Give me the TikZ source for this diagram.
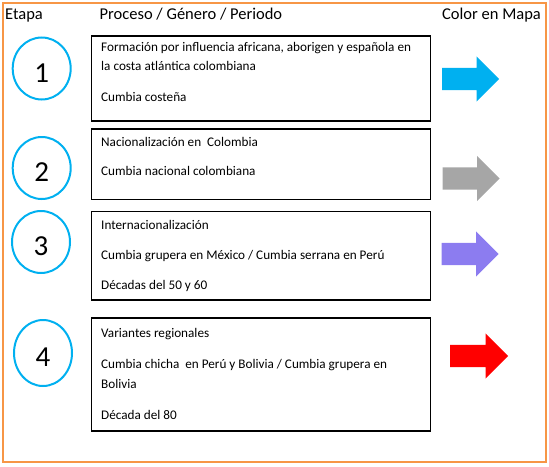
\documentclass[tikz,border=0pt]{standalone}
\usepackage{fontspec}
\setmainfont{Carlito}
\usetikzlibrary{shapes.geometric,shapes.arrows}
\definecolor{marco}{HTML}{F79646}
\definecolor{celeste}{HTML}{00B0F0}
\definecolor{gris}{HTML}{A6A6A6}
\definecolor{lila}{HTML}{8C7CF0}

\begin{document}
\begin{tikzpicture}[x=1pt,y=-1pt,
  etapa/.style={ellipse,draw=celeste,line width=2pt,minimum width=58pt,minimum height=62pt,
    inner sep=0pt,font=\fontsize{29}{29}\selectfont,text height=27pt,text depth=0pt},
  caja/.style={draw=black,line width=1.2pt},
  texto/.style={anchor=base west,inner sep=0pt,font=\fontsize{13.2}{15}\selectfont},
  titulo/.style={anchor=base west,inner sep=0pt,font=\fontsize{16.5}{19}\selectfont},
  flecha/.style={single arrow,single arrow head extend=11.5pt,minimum height=57pt,
    inner xsep=0pt,inner ysep=11pt,anchor=west}]
  \useasboundingbox (0,0) rectangle (549,466);
  \draw[marco,line width=2pt] (2.5,2.5) rectangle (546,462);

  %headers
  \node[titulo] (hetapa) at (5,19.5) {Etapa};
  \node[titulo] (hproceso) at (99.5,19.5) {Proceso / Género / Periodo};
  \node[titulo] (hcolor) at (442,19.5) {Color en Mapa};

  \node[etapa] (e1) at (41.7,68.5) {1};
  \node[etapa] (e2) at (41.7,168) {2};
  \node[etapa] (e3) at (41,242) {3};
  \node[etapa,minimum height=66pt] (e4) at (43,353) {4};

  \draw[caja] (91.5,36) rectangle (430.5,121);
  \node[texto] (t11) at (101,51.5) {Formación por influencia africana, aborigen y española en};
  \node[texto] (t12) at (101,70.5) {la costa atlántica colombiana};
  \node[texto] (t13) at (101,101) {Cumbia costeña};

  \draw[caja] (91.5,129) rectangle (430.5,199.5);
  \node[texto] (t21) at (101,146) {Nacionalización en\ \ Colombia};
  \node[texto] (t22) at (101,175.5) {Cumbia nacional colombiana};

  \draw[caja] (91.5,211.5) rectangle (430.5,300);
  \node[texto] (t31) at (101,229) {Internacionalización};
  \node[texto] (t32) at (101,259) {Cumbia grupera en México / Cumbia serrana en Perú};
  \node[texto] (t33) at (101,289) {Décadas del 50 y 60};

  \draw[caja] (91.5,318) rectangle (430.5,431);
  \node[texto] (t41) at (101,337) {Variantes regionales};
  \node[texto] (t42) at (101,368.5) {Cumbia chicha\ \ en Perú y Bolivia / Cumbia grupera en};
  \node[texto] (t43) at (101,388) {Bolivia};
  \node[texto] (t44) at (101,419.5) {Década del 80};

  %color arrows
  \node[flecha,fill=celeste] (f1) at (442,79) {};
  \node[flecha,fill=gris] (f2) at (442.5,178.5) {};
  \node[flecha,fill=lila] (f3) at (441.5,254) {};
  \node[flecha,fill=red,minimum height=58pt] (f4) at (450,356) {};

\end{tikzpicture}
\end{document}
